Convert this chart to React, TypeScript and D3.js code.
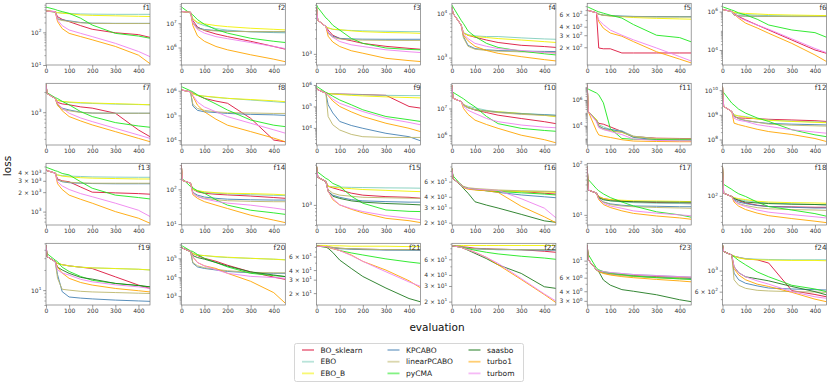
import React, { useEffect, useRef } from 'react'
import * as d3 from 'd3'

const methods = ['BO_sklearn', 'EBO', 'EBO_B', 'KPCABO', 'linearPCABO', 'pyCMA', 'saasbo', 'turbo1', 'turbom']
const colors = ['#dc143c', '#7fcdbb', '#f2f200', '#4682b4', '#bdb76b', '#1ee81e', '#1f7a1f', '#ffa500', '#ee82ee']

const evals = [0, 5, 40, 50, 70, 100, 150, 200, 300, 400, 450]
const xTicks = [0, 100, 200, 300, 400]

const panelNames = ['f1', 'f2', 'f3', 'f4', 'f5', 'f6', 'f7', 'f8', 'f9', 'f10', 'f11', 'f12',
	'f13', 'f14', 'f15', 'f16', 'f17', 'f18', 'f19', 'f20', 'f21', 'f22', 'f23', 'f24']

const yDomains = [
	[10, 773], [1.9e5, 6.6e7], [608, 9.6e3], [680, 1.7e4], [110, 880], [1.65e3, 2.7e6],
	[324, 2.7e3], [6.3e3, 2e6], [1.6e3, 1.2e6], [4.3e5, 8.7e7], [310, 2e7], [6e7, 1.9e10],
	[620, 5.6e3], [9.4, 560], [500, 4.2e3], [18.8, 98], [6.3, 105], [26, 450],
	[6, 50], [330, 6.3e5], [14, 89.5], [18.3, 91], [2.65, 16.8], [434, 1.94e3],
]

const yTicks = [
	[10, 100], [1e6, 1e7], [1e3], [1e3, 1e4], [200, 300, 400, 600], [1e4, 1e6],
	[1e3], [1e4, 1e5, 1e6], [1e4, 1e5, 1e6], [1e6, 1e7], [1e4, 1e6], [1e8, 1e9, 1e10],
	[1e3, 2e3, 3e3, 4e3], [10, 100], [1e3], [20, 30, 40, 60], [10, 100], [100],
	[10], [1e3, 1e4, 1e5], [20, 30, 40, 60], [20, 30, 40, 60], [3, 4, 6, 10], [600, 1000],
]

// one row per method (same order as methods), null where the method was not run
const f1 = [
	[450, 450, 430, 300, 250, 212, 160, 124, 97, 85, 70],
	[460, 455, 420, 400, 390, 380, 365, 360, 355, 355, 355],
	[460, 455, 420, 400, 385, 370, 340, 330, 320, 310, 305],
	[450, 445, 420, 260, 240, 225, 200, 190, 188, 188, 188],
	[450, 445, 410, 250, 230, 215, 195, 188, 186, 186, 186],
	[590, 580, 500, 470, 430, 380, 270, 167, 93, 77, 66],
	null,
	[450, 445, 430, 212, 130, 93, 74, 59, 37, 20, 11],
	[450, 445, 430, 240, 160, 118, 93, 74, 46, 26, 18],
]
const f2 = [
	[3e7, 3e7, 2.8e7, 1.3e7, 7e6, 5e6, 3.6e6, 2.8e6, 1.8e6, 1.1e6, 8.5e5],
	[3e7, 3e7, 2.8e7, 1.5e7, 1e7, 8e6, 6e6, 5.2e6, 4.4e6, 4.1e6, 4e6],
	[3e7, 3e7, 2.8e7, 1.5e7, 1.1e7, 9.4e6, 8e6, 7.2e6, 6.2e6, 5.6e6, 5.3e6],
	[3e7, 3e7, 2.8e7, 1e7, 6.5e6, 5.5e6, 5e6, 4.7e6, 4.5e6, 4.4e6, 4.4e6],
	[3e7, 3e7, 2.8e7, 1e7, 6e6, 5.2e6, 4.8e6, 4.6e6, 4.5e6, 4.5e6, 4.5e6],
	[4.8e7, 4.3e7, 2.5e7, 2.2e7, 1.4e7, 9e6, 5.5e6, 3.9e6, 2.4e6, 1.8e6, 1.6e6],
	null,
	[3e7, 3e7, 2.8e7, 8e6, 3e6, 1.8e6, 1.1e6, 8e5, 5e5, 3.3e5, 2.6e5],
	[3e7, 3e7, 2.8e7, 1e7, 5.5e6, 3.9e6, 2.8e6, 2.3e6, 1.6e6, 1.1e6, 9e5],
]
const f3 = [
	[8e3, 4.5e3, 3.4e3, 2.9e3, 2.3e3, 2e3, 1.8e3, 1.6e3, 1.4e3, 1.28e3, 1.23e3],
	[8e3, 4.5e3, 3.4e3, 3.2e3, 3e3, 2.9e3, 2.85e3, 2.8e3, 2.75e3, 2.7e3, 2.7e3],
	[8e3, 4.5e3, 3.4e3, 3.2e3, 3e3, 2.95e3, 2.8e3, 2.7e3, 2.6e3, 2.55e3, 2.5e3],
	[8e3, 4.5e3, 3.4e3, 2.6e3, 2.2e3, 2e3, 1.95e3, 1.93e3, 1.92e3, 1.92e3, 1.92e3],
	[8e3, 4.5e3, 3.4e3, 2.5e3, 2.1e3, 1.95e3, 1.88e3, 1.85e3, 1.83e3, 1.82e3, 1.82e3],
	[9e3, 8e3, 5e3, 4.6e3, 3.6e3, 2.9e3, 2e3, 1.6e3, 1.3e3, 1.22e3, 1.2e3],
	null,
	[8e3, 4.5e3, 3.4e3, 2.2e3, 1.7e3, 1.39e3, 1.15e3, 1.03e3, 820, 740, 710],
	[8e3, 4.5e3, 3.4e3, 2.6e3, 2.1e3, 1.74e3, 1.5e3, 1.39e3, 1.2e3, 1.1e3, 1.06e3],
]
const f4 = [
	[1.4e4, 1e4, 5.5e3, 3.6e3, 3.2e3, 2.9e3, 2.5e3, 2.2e3, 1.9e3, 1.78e3, 1.7e3],
	[1.4e4, 1e4, 5.5e3, 3.7e3, 3.3e3, 3.1e3, 3e3, 3e3, 2.8e3, 2.65e3, 2.6e3],
	[1.4e4, 1e4, 5.5e3, 3.6e3, 3.2e3, 3e3, 2.85e3, 2.7e3, 2.5e3, 2.3e3, 2.2e3],
	[1.4e4, 1e4, 5.5e3, 3e3, 1.9e3, 1.6e3, 1.5e3, 1.45e3, 1.4e3, 1.38e3, 1.37e3],
	[1.4e4, 1e4, 5.5e3, 2.8e3, 1.8e3, 1.55e3, 1.45e3, 1.4e3, 1.35e3, 1.32e3, 1.3e3],
	[1.55e4, 1.4e4, 7e3, 5.9e3, 4e3, 3e3, 2.1e3, 1.7e3, 1.4e3, 1.22e3, 1.15e3],
	null,
	[1.4e4, 1e4, 5.5e3, 3.2e3, 2.4e3, 1.8e3, 1.45e3, 1.25e3, 1.05e3, 900, 840],
	[1.4e4, 1e4, 5.5e3, 3.4e3, 2.7e3, 2.1e3, 1.8e3, 1.6e3, 1.45e3, 1.3e3, 1.25e3],
]
const f5 = [
	[700, 690, 640, 195, 190, 190, 165, 165, 165, 165, 165],
	[700, 690, 640, 610, 590, 580, 570, 565, 560, 560, 560],
	[700, 690, 640, 610, 590, 575, 560, 545, 530, 520, 515],
	[700, 690, 640, 610, 590, 580, 570, 565, 562, 560, 560],
	[700, 690, 640, 610, 585, 575, 565, 560, 555, 555, 555],
	[780, 770, 680, 660, 630, 590, 535, 430, 300, 277, 240],
	null,
	[700, 690, 640, 475, 380, 323, 290, 242, 172, 134, 118],
	[700, 690, 640, 500, 430, 357, 300, 257, 195, 146, 126],
]
const f6 = [
	[1.3e6, 1.25e6, 1e6, 8e5, 5.5e5, 3.7e5, 2e5, 1.1e5, 3.3e4, 1e4, 6.7e3],
	[1.3e6, 1.25e6, 1e6, 8.5e5, 7.5e5, 7e5, 6.5e5, 6.2e5, 6e5, 5.9e5, 5.9e5],
	[1.3e6, 1.25e6, 1e6, 9e5, 8.5e5, 8e5, 7.5e5, 7e5, 6.6e5, 6.3e5, 6.2e5],
	[1.3e6, 1.25e6, 1e6, 6.5e5, 6e5, 5.8e5, 5.7e5, 5.6e5, 5.5e5, 5.5e5, 5.5e5],
	[1.3e6, 1.25e6, 1e6, 6.5e5, 6e5, 5.8e5, 5.7e5, 5.6e5, 5.6e5, 5.6e5, 5.6e5],
	[1.8e6, 1.7e6, 1.2e6, 1.1e6, 8.5e5, 6.7e5, 4e5, 2e5, 1.1e5, 8e4, 4.6e4],
	null,
	[1.3e6, 1.25e6, 1e6, 7.5e5, 4.5e5, 2.5e5, 1.4e5, 7.4e4, 2.2e4, 5.5e3, 2.5e3],
	[1.3e6, 1.25e6, 1e6, 7.5e5, 5e5, 3.4e5, 2e5, 1.2e5, 3.8e4, 1.2e4, 7.2e3],
]
const f7 = [
	[2.6e3, 1.9e3, 1.6e3, 1.4e3, 1.33e3, 1.29e3, 1.2e3, 1.15e3, 966, 543, 431],
	[2.6e3, 1.9e3, 1.6e3, 1.5e3, 1.45e3, 1.4e3, 1.37e3, 1.35e3, 1.32e3, 1.3e3, 1.29e3],
	[2.6e3, 1.9e3, 1.6e3, 1.5e3, 1.45e3, 1.42e3, 1.39e3, 1.37e3, 1.34e3, 1.31e3, 1.29e3],
	[2.6e3, 1.9e3, 1.6e3, 1.3e3, 1.15e3, 1.08e3, 1e3, 970, 965, 965, 965],
	[2.6e3, 1.9e3, 1.6e3, 1.25e3, 1.1e3, 1.05e3, 990, 970, 965, 965, 965],
	[2e3, 1.95e3, 1.65e3, 1.6e3, 1.45e3, 1.29e3, 1.02e3, 861, 700, 623, 596],
	null,
	[2.6e3, 1.9e3, 1.6e3, 1.3e3, 1.05e3, 861, 740, 646, 513, 407, 363],
	[2.6e3, 1.9e3, 1.6e3, 1.35e3, 1.15e3, 966, 820, 724, 575, 457, 407],
]
const f8 = [
	[1.1e6, 1.05e6, 9e5, 8e5, 6.5e5, 4.9e5, 3.8e5, 3.1e5, 7.6e4, 1e4, 8.5e3],
	[1.1e6, 1.05e6, 9e5, 7.5e5, 6.5e5, 6e5, 5.3e5, 4.9e5, 4.2e5, 3.6e5, 3.3e5],
	[1.1e6, 1.05e6, 9e5, 7.5e5, 6.5e5, 6e5, 5.5e5, 4.9e5, 4.4e5, 3.9e5, 3.6e5],
	[1.1e6, 1.05e6, 9e5, 2.4e5, 1.6e5, 1.4e5, 1.3e5, 1.2e5, 1.1e5, 1.05e5, 1e5],
	[1.1e6, 1.05e6, 9e5, 2.8e5, 1.9e5, 1.6e5, 1.4e5, 1.3e5, 1.25e5, 1.2e5, 1.2e5],
	[1.45e6, 1.4e6, 1e6, 9e5, 6.8e5, 4.9e5, 2.9e5, 1.65e5, 6.5e4, 4e4, 3.5e4],
	null,
	[1.1e6, 1.05e6, 9e5, 6e5, 2.6e5, 1.4e5, 7e4, 4e4, 2.2e4, 1.2e4, 8.5e3],
	[1.1e6, 1.05e6, 9e5, 6.5e5, 3.5e5, 2.2e5, 1.4e5, 8.9e4, 4.8e4, 2.6e4, 1.9e4],
]
const f9 = [
	[7.2e5, 6e5, 4.2e5, 4e5, 3.9e5, 3.8e5, 3.7e5, 3.6e5, 3.3e5, 1e5, 8.4e4],
	[7.2e5, 6e5, 4.2e5, 4e5, 3.9e5, 3.8e5, 3.6e5, 3.5e5, 3.3e5, 3.2e5, 3.2e5],
	[7.2e5, 6e5, 4.2e5, 4e5, 3.8e5, 3.6e5, 3.3e5, 3.1e5, 2.8e5, 2.6e5, 2.5e5],
	[7.2e5, 6e5, 4.2e5, 1.2e5, 5e4, 2e4, 1.3e4, 9.6e3, 5.6e3, 3.9e3, 2.5e3],
	[7.2e5, 6e5, 4.2e5, 3.4e4, 1.4e4, 8e3, 5e3, 3.9e3, 3.6e3, 3.6e3, 3.6e3],
	[8.7e5, 8e5, 4.5e5, 4e5, 3e5, 2e5, 1.2e5, 7e4, 3.4e4, 2.4e4, 2e4],
	null,
	[7.2e5, 6e5, 4.2e5, 3.2e5, 1.8e5, 1e5, 5.6e4, 3.4e4, 1.65e4, 9.6e3, 6.7e3],
	[7.2e5, 6e5, 4.2e5, 3.5e5, 2.2e5, 1.4e5, 9e4, 5.8e4, 2.8e4, 1.8e4, 1.4e4],
]
const f10 = [
	[7.5e7, 2.4e7, 1.8e7, 1.4e7, 1.1e7, 8.7e6, 7e6, 5.6e6, 4.2e6, 3.2e6, 2.7e6],
	[7.5e7, 2.4e7, 1.8e7, 1.4e7, 1.2e7, 1.05e7, 8.5e6, 7.5e6, 6.5e6, 5.9e6, 5.6e6],
	[7.5e7, 2.4e7, 1.8e7, 1.4e7, 1.1e7, 9e6, 8e6, 7.5e6, 6.5e6, 5.5e6, 4.9e6],
	[7.5e7, 2.4e7, 1.8e7, 1.3e7, 1.05e7, 9e6, 8e6, 7.2e6, 6.3e6, 5.8e6, 5.5e6],
	[7.5e7, 2.4e7, 1.8e7, 1.3e7, 1.05e7, 9e6, 7.8e6, 7e6, 6e6, 5.5e6, 5.2e6],
	[4.2e7, 4e7, 2.6e7, 2.3e7, 1.7e7, 1.15e7, 5e6, 2.7e6, 1.8e6, 1.5e6, 1.4e6],
	null,
	[7.5e7, 2.4e7, 1.8e7, 1e7, 6e6, 3.65e6, 2.5e6, 1.8e6, 1e6, 6.8e5, 5.2e5],
	[7.5e7, 2.4e7, 1.8e7, 1.2e7, 8.5e6, 6.5e6, 4.2e6, 3.2e6, 2.4e6, 2e6, 1.9e6],
]
const f11 = [
	[1.5e7, 1.2e5, 2.8e4, 1.5e4, 1.3e4, 8e3, 3.5e3, 1.4e3, 1.05e3, 1e3, 980],
	[1.5e7, 1.2e5, 3e4, 1.2e4, 8e3, 5e3, 4e3, 1.5e3, 950, 900, 880],
	[1.5e7, 1.2e5, 3e4, 1e4, 6e3, 4e3, 3e3, 1.3e3, 900, 850, 850],
	[1.5e7, 1.2e5, 2.5e4, 9e3, 6e3, 5e3, 3.5e3, 1.2e3, 800, 780, 780],
	[1.5e7, 1.2e5, 2.5e4, 8e3, 5e3, 4e3, 3e3, 1.5e3, 950, 900, 900],
	[8e6, 7e6, 3.5e6, 2.5e6, 6e5, 6e3, 1e3, 870, 800, 770, 760],
	null,
	[1.5e7, 1.2e5, 4e3, 1.9e3, 1.5e3, 1.2e3, 800, 630, 580, 560, 560],
	[1.5e7, 1.2e5, 2e4, 7e3, 5e3, 3.5e3, 2e3, 900, 700, 650, 650],
]
const f12 = [
	[1.4e10, 2.2e9, 1.37e9, 8.5e8, 7.5e8, 7.3e8, 7e8, 6.6e8, 6.2e8, 5.8e8, 5.4e8],
	[1.4e10, 2.2e9, 1.37e9, 1e9, 9e8, 8.5e8, 7e8, 6.2e8, 5.5e8, 5.2e8, 5e8],
	[1.4e10, 2.2e9, 1.37e9, 1e9, 9e8, 8e8, 6.8e8, 6e8, 5.4e8, 5e8, 4.8e8],
	[1.4e10, 2.2e9, 1.37e9, 9e8, 7e8, 5.8e8, 5e8, 4.5e8, 4.2e8, 4e8, 3.9e8],
	[1.4e10, 2.2e9, 1.37e9, 9e8, 7e8, 6e8, 5e8, 4.2e8, 3.8e8, 3.6e8, 3.5e8],
	[8.9e9, 8e9, 3e9, 2.5e9, 1.7e9, 1.17e9, 7.5e8, 5.4e8, 2.5e8, 1.55e8, 1.3e8],
	null,
	[1.4e10, 2.2e9, 1.37e9, 4.6e8, 4e8, 3.4e8, 2.6e8, 2.1e8, 1.6e8, 1.1e8, 8.3e7],
	[1.4e10, 2.2e9, 1.37e9, 7.3e8, 6e8, 5.4e8, 4e8, 3.4e8, 2.5e8, 2e8, 1.8e8],
]
const f13 = [
	[4.4e3, 4.3e3, 3.95e3, 3.2e3, 3e3, 2.9e3, 2.4e3, 2e3, 1.95e3, 1.9e3, 1.86e3],
	[4.4e3, 4.3e3, 3.95e3, 3.7e3, 3.6e3, 3.55e3, 3.5e3, 3.45e3, 3.42e3, 3.4e3, 3.4e3],
	[4.4e3, 4.3e3, 3.95e3, 3.7e3, 3.55e3, 3.45e3, 3.35e3, 3.3e3, 3.25e3, 3.2e3, 3.2e3],
	[4.4e3, 4.3e3, 3.95e3, 3.1e3, 2.9e3, 2.8e3, 2.75e3, 2.72e3, 2.7e3, 2.7e3, 2.7e3],
	[4.4e3, 4.3e3, 3.95e3, 3.1e3, 2.95e3, 2.85e3, 2.78e3, 2.75e3, 2.75e3, 2.75e3, 2.75e3],
	[4.9e3, 4.8e3, 4.3e3, 4.2e3, 3.9e3, 3.7e3, 2.9e3, 2.3e3, 1.8e3, 1.65e3, 1.57e3],
	null,
	[4.4e3, 4.3e3, 3.95e3, 2.7e3, 2.2e3, 1.8e3, 1.55e3, 1.35e3, 1e3, 790, 660],
	[4.4e3, 4.3e3, 3.95e3, 2.9e3, 2.5e3, 2.2e3, 1.9e3, 1.7e3, 1.35e3, 1.05e3, 840],
]
const f14 = [
	[500, 180, 150, 100, 85, 77, 72, 69, 64, 58, 55],
	[500, 180, 150, 100, 90, 82, 77, 74, 70, 67, 66],
	[500, 180, 150, 100, 92, 85, 80, 77, 75, 72, 69],
	[500, 180, 150, 82, 68, 60, 55, 52, 50, 49, 49],
	[500, 180, 150, 82, 62, 55, 50, 47, 45, 44, 44],
	[210, 200, 120, 110, 90, 77, 50, 35, 25, 21, 19],
	null,
	[500, 180, 150, 70, 55, 44, 35, 28, 18, 13, 11],
	[500, 180, 150, 75, 62, 53, 45, 40, 35, 29, 26],
]
const f15 = [
	[3.76e3, 2.6e3, 2.24e3, 1.9e3, 1.8e3, 1.68e3, 1.5e3, 1.4e3, 1.33e3, 1.3e3, 1.26e3],
	[3.76e3, 2.6e3, 2.24e3, 1.9e3, 1.88e3, 1.85e3, 1.83e3, 1.82e3, 1.8e3, 1.79e3, 1.78e3],
	[3.76e3, 2.6e3, 2.24e3, 1.9e3, 1.85e3, 1.8e3, 1.75e3, 1.7e3, 1.65e3, 1.6e3, 1.58e3],
	[3.76e3, 2.6e3, 2.24e3, 1.6e3, 1.4e3, 1.3e3, 1.2e3, 1.15e3, 1.12e3, 1.1e3, 1.1e3],
	[3.76e3, 2.6e3, 2.24e3, 1.7e3, 1.5e3, 1.4e3, 1.35e3, 1.3e3, 1.28e3, 1.26e3, 1.25e3],
	[3.16e3, 3.1e3, 2.5e3, 2.4e3, 2.1e3, 1.9e3, 1.35e3, 1.06e3, 840, 800, 795],
	[3.76e3, 2.6e3, 2.24e3, 1.6e3, 1.35e3, 1.25e3, 1.15e3, 1.1e3, 1.05e3, 1.02e3, 1e3],
	[3.76e3, 2.6e3, 2.24e3, 1.6e3, 1.2e3, 1e3, 860, 760, 630, 580, 543],
	[3.76e3, 2.6e3, 2.24e3, 1.6e3, 1.25e3, 1e3, 880, 795, 690, 630, 600],
]
const f16 = [
	[85, 65, 55, 52, 50, 49, 47.5, 47, 46, 44, 43],
	[85, 65, 55, 52, 50, 49, 48, 47, 46.5, 46, 45.5],
	[85, 65, 55, 52, 50, 48.5, 47.5, 47, 46, 45.5, 45],
	[85, 65, 55, 52, 50, 49, 47, 45, 42, 40, 39],
	[85, 65, 55, 53, 51, 50, 49, 48, 47, 46.5, 46],
	[85, 70, 55, 52, 50, 48.5, 47, 46, 44.5, 43, 42],
	[85, 65, 54, 50, 44, 35, 32, 29.6, 25, 21, 20.2],
	[85, 65, 55, 51, 49, 48, 47, 45, 31, 23.4, 20],
	[85, 65, 55, 52, 50, 49, 48, 47.5, 38, 29.5, 22.8],
]
const f17 = [
	[90, 31, 27, 23, 21, 20, 18.8, 18, 17.5, 17, 17],
	[90, 31, 27, 22, 20, 19, 18, 17.5, 17, 16.8, 16.5],
	[90, 31, 27, 23, 21, 20, 19.5, 19, 18.8, 18.5, 18.3],
	[90, 31, 27, 21, 18, 16.5, 15.5, 15, 14.8, 14.5, 14.5],
	[90, 31, 27, 21, 18, 16, 15, 14.5, 14, 13.7, 13.5],
	[53, 50, 33, 30, 26, 22, 18, 15, 11.5, 10, 9],
	[90, 31, 27, 22, 20, 19, 18.5, 18.2, 18, 17.8, 17.8],
	[90, 31, 27, 20, 16, 14, 12, 10.7, 9.5, 8.7, 8.2],
	[90, 31, 27, 21, 17, 15, 13.5, 12, 10.8, 10, 9.6],
]
const f18 = [
	[386, 113, 97, 90, 80, 72, 65, 61, 60, 59, 59],
	[386, 113, 97, 92, 85, 80, 75, 72, 69, 67, 66],
	[386, 113, 97, 92, 88, 84, 78, 75, 73, 72, 71],
	[386, 113, 97, 84, 75, 70, 64, 61, 59, 57, 57],
	[386, 113, 97, 80, 70, 64, 58, 55, 53, 52, 51],
	[180, 170, 135, 125, 110, 97, 75, 61, 52, 44, 39],
	[386, 113, 97, 88, 82, 75, 72, 70, 68, 67, 66],
	[386, 113, 97, 75, 62, 53, 45, 40, 35, 31, 29],
	[386, 113, 97, 80, 68, 61, 52, 47, 42, 38, 36],
]
const f19 = [
	[47, 31.6, 26.6, 25, 24, 23, 22, 21, 15.8, 11.9, 10.6],
	[47, 31.6, 26.6, 25, 24, 23, 22, 21.5, 21, 20.5, 20],
	[47, 31.6, 26.6, 25, 24, 23, 22, 21.5, 21, 20.5, 20],
	[47, 31.6, 26.6, 17, 9.5, 7.9, 7.6, 7.4, 7.1, 6.9, 6.8],
	[47, 31.6, 26.6, 15, 10.3, 10, 9.6, 9.4, 9.2, 9, 8.9],
	[37.6, 35, 28, 26.6, 22, 19, 16, 14, 12.6, 11.7, 11.2],
	[47, 31.6, 26.6, 22, 20, 17.8, 15.5, 14.6, 12.6, 11.7, 11.2],
	[47, 31.6, 26.6, 22, 18, 15, 13, 11.9, 10.6, 9.8, 9.4],
	[47, 31.6, 26.6, 20, 18, 16.8, 14.5, 13.3, 12, 11.2, 10.6],
]
const f20 = [
	[4.2e5, 3.5e5, 2.3e5, 1.8e5, 1.4e5, 1e5, 7e4, 4.3e4, 1.9e4, 1e4, 7.6e3],
	[4.2e5, 3.5e5, 2.3e5, 1.8e5, 1.5e5, 1.4e5, 1.2e5, 1.1e5, 1e5, 9e4, 8.5e4],
	[4.2e5, 3.5e5, 2.3e5, 1.8e5, 1.5e5, 1.4e5, 1.25e5, 1.15e5, 1e5, 9e4, 8.2e4],
	[4.2e5, 3.5e5, 2.3e5, 5.5e4, 3.5e4, 2.9e4, 2.4e4, 2e4, 1.7e4, 1.6e4, 1.6e4],
	[4.2e5, 3.5e5, 2.3e5, 6e4, 4e4, 3.2e4, 2.6e4, 2.2e4, 1.8e4, 1.7e4, 1.7e4],
	[5.1e5, 4.5e5, 2.5e5, 2.3e5, 1.6e5, 1e5, 6e4, 3.5e4, 1.6e4, 1.2e4, 1.07e4],
	[4.2e5, 3.5e5, 2.3e5, 1.4e5, 1.1e5, 9e4, 6e4, 3.9e4, 1.9e4, 1.3e4, 1.07e4],
	[4.2e5, 3.5e5, 2.3e5, 1.2e5, 6e4, 4e4, 2.9e4, 1.6e4, 6e3, 1.5e3, 410],
	[4.2e5, 3.5e5, 2.3e5, 1.2e5, 6e4, 4e4, 2.5e4, 1.6e4, 1.1e4, 9.5e3, 8.7e3],
]
const f21 = [
	[82, 82, 81, 80, 79, 77, 76, 75, 74, 74, 73],
	[82, 82, 81, 80, 78, 77, 76, 75, 74, 73, 73],
	[84, 84, 84, 83, 83, 83, 82, 82, 82, 81, 81],
	[82, 82, 81, 80, 78, 76, 75, 74, 73, 73, 73],
	[82, 82, 81, 80, 79, 77, 76, 75, 74, 74, 74],
	[82, 82, 80, 79, 77, 72, 67, 63, 56, 51, 49],
	[82, 82, 80, 77, 68, 54, 42, 33, 23.3, 17, 15.4],
	[82, 82, 81, 79, 76, 72, 63, 52, 40, 29, 23.4],
	[82, 82, 81, 80, 77, 72, 62, 52, 38, 28, 24.5],
]
const f22 = [
	[85, 85, 84, 83, 82, 80, 79, 78, 77, 74, 72],
	[85, 85, 84, 82, 80, 79, 78, 78, 77, 77, 77],
	[86, 86, 86, 86, 86, 86, 86, 86, 86, 86, 86],
	[85, 85, 84, 82, 80, 79, 78, 77, 77, 76, 76],
	[85, 85, 84, 82, 80, 79, 78, 78, 77, 77, 77],
	[85, 85, 82, 81, 79, 76, 72, 69, 65, 62, 60],
	[85, 85, 82, 80, 76, 70, 61, 52, 41.6, 29.4, 28.2],
	[85, 85, 82, 80, 77, 72, 63, 52, 35.5, 24, 19.5],
	[85, 85, 82, 80, 77, 72, 63, 54, 36.4, 24.4, 20.3],
]
const f23 = [
	[16, 10.2, 7.6, 7.3, 7, 6.8, 6.6, 6.4, 6.2, 6.1, 6.05],
	[16, 10.2, 7.6, 7.4, 7.2, 7, 6.8, 6.6, 6.4, 6.2, 6.1],
	[16, 10.2, 7.6, 7.3, 7, 6.8, 6.5, 6.3, 6.1, 5.95, 5.9],
	[16, 10.2, 7.6, 7.3, 7, 6.7, 6.5, 6.3, 6.1, 5.9, 5.85],
	[16, 10.2, 7.6, 7.2, 6.9, 6.6, 6.4, 6.2, 6, 5.8, 5.7],
	[13.7, 12, 8, 7.6, 7.2, 6.9, 6.6, 6.3, 6, 5.8, 5.7],
	[16, 10.2, 7.6, 7.2, 5.6, 4.8, 4.2, 4, 3.6, 3.1, 2.93],
	[16, 10.2, 7.6, 7.2, 6.8, 6.5, 6.2, 6, 5.7, 5.45, 5.3],
	[16, 10.2, 7.6, 7.4, 7.2, 7, 6.8, 6.6, 6.4, 6.2, 6.1],
]
const f24 = [
	[1.87e3, 1.59e3, 1.46e3, 1.42e3, 1.38e3, 1.33e3, 1.3e3, 1.2e3, 615, 560, 530],
	[1.87e3, 1.59e3, 1.46e3, 1.42e3, 1.38e3, 1.34e3, 1.32e3, 1.31e3, 1.3e3, 1.3e3, 1.3e3],
	[1.87e3, 1.59e3, 1.46e3, 1.42e3, 1.36e3, 1.32e3, 1.3e3, 1.29e3, 1.28e3, 1.28e3, 1.27e3],
	[1.87e3, 1.59e3, 1.46e3, 940, 800, 735, 690, 655, 640, 630, 625],
	[1.87e3, 1.59e3, 1.46e3, 800, 700, 650, 620, 610, 600, 595, 590],
	[1.65e3, 1.6e3, 1.46e3, 1.4e3, 1.28e3, 1.15e3, 970, 860, 700, 640, 600],
	[1.87e3, 1.59e3, 1.46e3, 1.1e3, 950, 860, 820, 780, 680, 600, 555],
	[1.87e3, 1.59e3, 1.46e3, 1.05e3, 900, 800, 720, 680, 590, 500, 470],
	[1.87e3, 1.59e3, 1.46e3, 1.1e3, 950, 860, 780, 720, 600, 530, 510],
]

const losses = [f1, f2, f3, f4, f5, f6, f7, f8, f9, f10, f11, f12,
	f13, f14, f15, f16, f17, f18, f19, f20, f21, f22, f23, f24]

const W = 830
const H = 385
const left0 = 46
const colStep = 135.3
const panelW = 104
const top0 = 3.3
const rowStep = 80
const panelH = 61.7
const font = 'DejaVu Sans, sans-serif'

function sciLabel(node, v) {
	const e = Math.floor(Math.log10(v) + 1e-9)
	const m = Math.round(v / Math.pow(10, e))
	const t = d3.select(node).text(null)
	if (m !== 1) t.append('tspan').text(`${m} × `)
	t.append('tspan').text('10')
	t.append('tspan').attr('dy', -2.6).attr('font-size', 4.3).text(e)
}

export default function App() {
	const ref = useRef(null)

	useEffect(() => {
		const svg = d3.select(ref.current)
		svg.selectAll('*').remove()

		panelNames.forEach((name, i) => {
			const col = i % 6
			const row = Math.floor(i / 6)
			const left = left0 + col * colStep
			const top = top0 + row * rowStep

			const x = d3.scaleLinear().domain([0, 450]).range([left, left + panelW])
			const y = d3.scaleLog().domain(yDomains[i]).range([top + panelH, top])

			const g = svg.append('g')

			g.append('clipPath').attr('id', `clip${i}`)
				.append('rect').attr('x', left).attr('y', top).attr('width', panelW).attr('height', panelH)

			// minor ticks
			const [lo, hi] = yDomains[i]
			const minor = []
			for (let e = Math.floor(Math.log10(lo)); e <= Math.ceil(Math.log10(hi)); e++) {
				for (let k = 1; k < 10; k++) {
					const v = k * Math.pow(10, e)
					if (v >= lo && v <= hi && !yTicks[i].includes(v)) minor.push(v)
				}
			}
			const minorAxis = g.append('g')
				.attr('transform', `translate(${left},0)`)
				.call(d3.axisLeft(y).tickValues(minor).tickSize(1.6).tickFormat(() => ''))
			minorAxis.select('.domain').remove()
			minorAxis.selectAll('line').attr('stroke', '#555').attr('stroke-width', 0.5)

			const yAxis = g.append('g')
				.attr('transform', `translate(${left},0)`)
				.call(d3.axisLeft(y).tickValues(yTicks[i]).tickSize(2.8).tickPadding(1.8))
			yAxis.select('.domain').remove()
			yAxis.selectAll('line').attr('stroke', '#555').attr('stroke-width', 0.6)
			yAxis.selectAll('text')
				.attr('font-family', font).attr('font-size', 6).attr('fill', '#333')
				.each(function (d) { sciLabel(this, d) })

			const xAxis = g.append('g')
				.attr('transform', `translate(0,${top + panelH})`)
				.call(d3.axisBottom(x).tickValues(xTicks).tickSize(2.8).tickPadding(1.2))
			xAxis.select('.domain').remove()
			xAxis.selectAll('line').attr('stroke', '#555').attr('stroke-width', 0.6)
			xAxis.selectAll('text').attr('font-family', font).attr('font-size', 6).attr('fill', '#333')

			const line = d3.line()
				.x((d) => x(d[0]))
				.y((d) => y(d[1]))

			const lines = g.append('g').attr('clip-path', `url(#clip${i})`)
			losses[i].forEach((vals, m) => {
				if (!vals) return
				lines.append('path')
					.datum(vals.map((v, k) => [evals[k], v]))
					.attr('d', line)
					.attr('fill', 'none')
					.attr('stroke', colors[m])
					.attr('stroke-width', 1)
					.attr('stroke-opacity', 0.9)
			})

			g.append('rect')
				.attr('x', left).attr('y', top)
				.attr('width', panelW).attr('height', panelH)
				.attr('fill', 'none').attr('stroke', '#777').attr('stroke-width', 0.7)

			g.append('text')
				.attr('x', left + panelW).attr('y', top + 7)
				.attr('text-anchor', 'end')
				.attr('font-family', font).attr('font-size', 7.2).attr('fill', '#333')
				.text(name)
		})

		svg.append('text')
			.attr('transform', `translate(11,166) rotate(-90)`)
			.attr('text-anchor', 'middle')
			.attr('font-family', font).attr('font-size', 10.5).attr('fill', '#111')
			.text('loss')

		svg.append('text')
			.attr('x', 437).attr('y', 331)
			.attr('text-anchor', 'middle')
			.attr('font-family', font).attr('font-size', 10.5).attr('fill', '#111')
			.text('evaluation')

		// legend, 3 columns filled top to bottom
		const legend = svg.append('g')
		legend.append('rect')
			.attr('x', 294.5).attr('y', 343.5).attr('width', 229).attr('height', 38)
			.attr('rx', 2).attr('fill', '#fff').attr('stroke', '#ccc').attr('stroke-width', 0.8)
		const colX = [302, 387.5, 468.5]
		methods.forEach((m, k) => {
			const cx = colX[Math.floor(k / 3)]
			const cy = 350 + (k % 3) * 11.7
			legend.append('line')
				.attr('x1', cx).attr('x2', cx + 12).attr('y1', cy).attr('y2', cy)
				.attr('stroke', colors[k]).attr('stroke-width', 1.8).attr('stroke-opacity', 0.55)
			legend.append('text')
				.attr('x', cx + 18.5).attr('y', cy + 2.6)
				.attr('font-family', font).attr('font-size', 7.5).attr('fill', '#222')
				.text(m)
		})
	}, [])

	return (
		<svg
			ref={ref}
			width={W}
			height={H}
			viewBox={`0 0 ${W} ${H}`}
			style={{ position: 'absolute', left: 0, top: 0, background: '#fff' }}
		/>
	)
}
